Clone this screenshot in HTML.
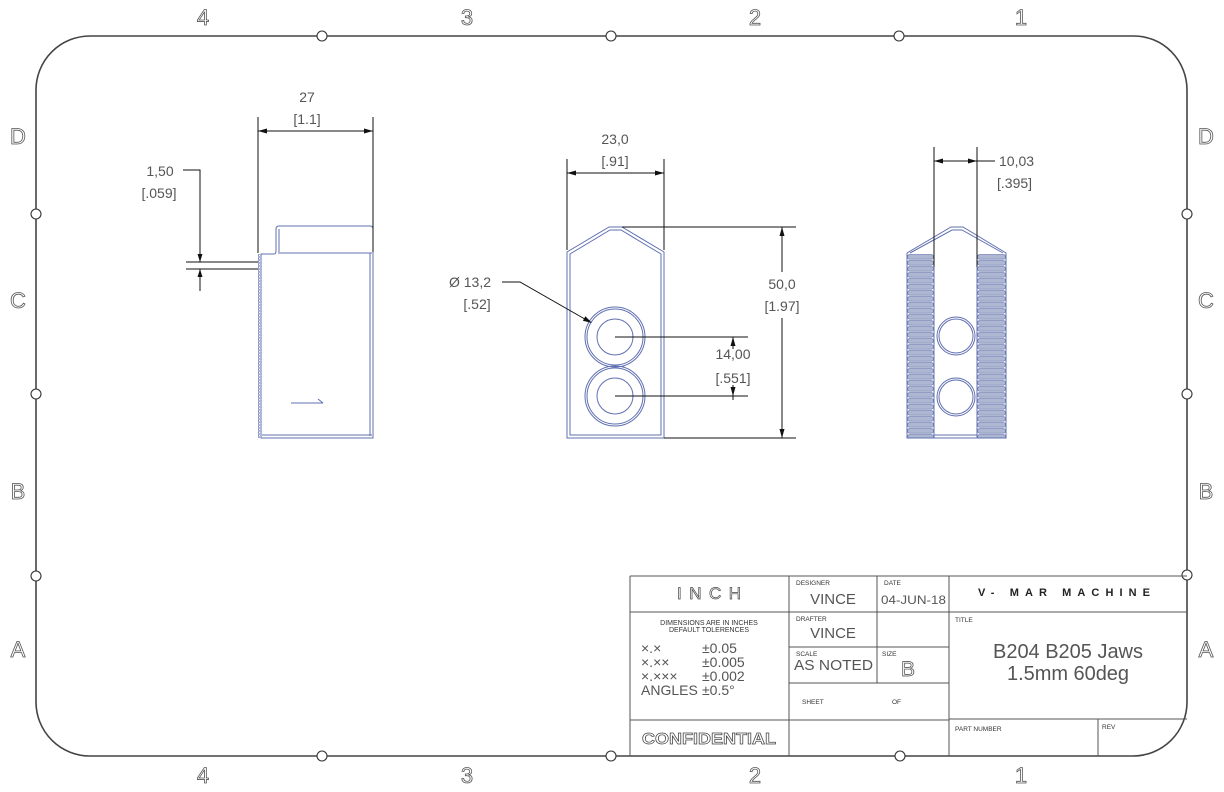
<!DOCTYPE html>
<html><head><meta charset="utf-8"><style>
html,body{margin:0;padding:0;background:#fff;}
svg{display:block;}
text{font-family:"Liberation Sans",sans-serif;}
</style></head><body>
<svg width="1224" height="792" viewBox="0 0 1224 792" xmlns="http://www.w3.org/2000/svg">
<defs>
<pattern id="serr" x="258" y="254" width="4" height="3" patternUnits="userSpaceOnUse">
<path d="M2,0 A1.5,1.5 0 0 0 2,3" fill="none" stroke="#6a78b0" stroke-width="0.8"/>
</pattern>
<pattern id="knurlL" x="907" y="254" width="27" height="6" patternUnits="userSpaceOnUse">
<rect x="0.5" y="0.6" width="26" height="4.6" rx="2.2" fill="#aeb7d2" stroke="#5d6ca8" stroke-width="0.6"/>
</pattern>
<pattern id="knurlR" x="977" y="254" width="29" height="6" patternUnits="userSpaceOnUse">
<rect x="0.5" y="0.6" width="28" height="4.6" rx="2.2" fill="#aeb7d2" stroke="#5d6ca8" stroke-width="0.6"/>
</pattern>
</defs>

<!-- border -->
<path d="M90,36 L1134,36 A53,54 0 0 1 1187,90 L1187,702 A54,54 0 0 1 1133,756 L90,756 A54,54 0 0 1 36,702 L36,90 A54,54 0 0 1 90,36 Z" fill="none" stroke="#444" stroke-width="1.6"/>
<g fill="#fff" stroke="#333" stroke-width="1.1">
<circle cx="322" cy="36" r="5"/><circle cx="611" cy="36" r="5"/><circle cx="899" cy="36" r="5"/>
<circle cx="322" cy="756" r="5"/><circle cx="611" cy="756" r="5"/><circle cx="900" cy="756" r="5"/>
<circle cx="36" cy="214" r="5"/><circle cx="36" cy="394" r="5"/><circle cx="36" cy="576" r="5"/>
<circle cx="1187" cy="214" r="5"/><circle cx="1187" cy="394" r="5"/><circle cx="1187" cy="575" r="5"/>
</g>
<g font-size="22" fill="#fff" stroke="#555" stroke-width="0.8" text-anchor="middle">
<text x="203" y="25">4</text><text x="467" y="25">3</text><text x="755" y="25">2</text><text x="1021" y="25">1</text>
<text x="203" y="783">4</text><text x="467" y="783">3</text><text x="755" y="783">2</text><text x="1021" y="783">1</text>
<text x="18" y="144">D</text><text x="18" y="308">C</text><text x="18" y="499">B</text><text x="18" y="657">A</text>
<text x="1206" y="144">D</text><text x="1206" y="308">C</text><text x="1206" y="499">B</text><text x="1206" y="657">A</text>
</g>

<!-- ============ LEFT VIEW ============ -->
<g fill="none" stroke="#6070b0" stroke-width="1">
<path d="M261,438 L261,254 L274,254 Q276,254 276,251 L276,229 Q276,226 279,226 L370,226 Q373,226 373,229 L373,438 Z"/>
<line x1="278" y1="253" x2="372" y2="253"/>
<line x1="279" y1="229" x2="279" y2="252"/>
<line x1="370" y1="253" x2="370" y2="436"/>
<line x1="262" y1="435" x2="372" y2="435"/>
<line x1="291" y1="403" x2="323" y2="403"/>
<line x1="323" y1="403" x2="318" y2="399"/>
</g>
<rect x="258" y="254" width="4" height="184" fill="url(#serr)"/>
<g stroke="#111" stroke-width="1" fill="none">
<line x1="258" y1="117" x2="258" y2="253"/>
<line x1="373" y1="117" x2="373" y2="252"/>
<line x1="258" y1="131" x2="373" y2="131"/>
<polyline points="183,170 200,170 200,262"/>
<line x1="200" y1="269" x2="200" y2="291"/>
<line x1="186" y1="262" x2="258" y2="262"/>
<line x1="186" y1="269" x2="258" y2="269"/>
</g>
<g fill="#111">
<polygon points="258,131 267,128.5 267,133.5"/>
<polygon points="373,131 364,128.5 364,133.5"/>
<polygon points="200,262 197.5,254 202.5,254"/>
<polygon points="200,269 197.5,277 202.5,277"/>
</g>
<g font-size="14" fill="#555" text-anchor="middle">
<text x="307" y="102">27</text>
<text x="307" y="124">[1.1]</text>
<text x="160" y="176">1,50</text>
<text x="159" y="198">[.059]</text>
</g>

<!-- ============ MIDDLE VIEW ============ -->
<g fill="none" stroke="#6070b0" stroke-width="1">
<path d="M567,438 L567,252 L609,227 L622,227 L664,252 L664,438 Z"/>
<path d="M570,435 L570,254 L610,230 L621,230 L661,254 L661,435 Z"/>
<circle cx="615" cy="337" r="30"/><circle cx="615" cy="337" r="28"/><circle cx="615" cy="337" r="18"/>
<circle cx="615" cy="396" r="30"/><circle cx="615" cy="396" r="28"/><circle cx="615" cy="396" r="18"/>
</g>
<g stroke="#111" stroke-width="1" fill="none">
<line x1="567" y1="159" x2="567" y2="250"/>
<line x1="664" y1="159" x2="664" y2="250"/>
<line x1="567" y1="173" x2="664" y2="173"/>
<line x1="622" y1="227" x2="796" y2="227"/>
<line x1="664" y1="438" x2="796" y2="438"/>
<line x1="782" y1="227" x2="782" y2="272"/>
<line x1="782" y1="318" x2="782" y2="438"/>
<line x1="615" y1="337" x2="748" y2="337"/>
<line x1="615" y1="396" x2="748" y2="396"/>
<line x1="733" y1="337" x2="733" y2="349"/>
<line x1="733" y1="385" x2="733" y2="400"/>
<polyline points="502,282 520,282 590,322"/>
</g>
<g fill="#111">
<polygon points="567,173 576,170.5 576,175.5"/>
<polygon points="664,173 655,170.5 655,175.5"/>
<polygon points="782,227 779.5,236 784.5,236"/>
<polygon points="782,438 779.5,429 784.5,429"/>
<polygon points="733,337 730.5,346 735.5,346"/>
<polygon points="733,396 730.5,387 735.5,387"/>
<polygon points="592,323 582.9,320.7 585.4,316.3"/>
</g>
<g font-size="14" fill="#555" text-anchor="middle">
<text x="615" y="144">23,0</text>
<text x="615" y="166">[.91]</text>
<text x="782" y="289">50,0</text>
<text x="782" y="311">[1.97]</text>
<text x="733" y="359">14,00</text>
<text x="733" y="383">[.551]</text>
<text x="470" y="287">Ø 13,2</text>
<text x="477" y="309">[.52]</text>
</g>

<!-- ============ RIGHT VIEW ============ -->
<rect x="907" y="254" width="27" height="184" fill="url(#knurlL)"/>
<rect x="977" y="254" width="29" height="184" fill="url(#knurlR)"/>
<g fill="none" stroke="#6070b0" stroke-width="1">
<path d="M907,438 L907,253 L951,227 L963,227 L1006,253 L1006,438 Z"/>
<path d="M910,253 L952,230 L962,230 L1003,253"/>
<line x1="934" y1="435" x2="977" y2="435"/>
<line x1="934" y1="254" x2="934" y2="438"/>
<line x1="977" y1="254" x2="977" y2="438"/>
<circle cx="956" cy="336" r="19"/><circle cx="956" cy="336" r="17"/>
<circle cx="956" cy="397" r="19"/><circle cx="956" cy="397" r="17"/>
</g>
<g stroke="#111" stroke-width="1" fill="none">
<line x1="934" y1="147" x2="934" y2="267"/>
<line x1="977" y1="147" x2="977" y2="267"/>
<line x1="934" y1="161" x2="995" y2="161"/>
</g>
<g fill="#111">
<polygon points="934,161 943,158.5 943,163.5"/>
<polygon points="977,161 968,158.5 968,163.5"/>
</g>
<g font-size="14" fill="#555">
<text x="999" y="166">10,03</text>
<text x="997" y="188">[.395]</text>
</g>

<!-- ============ TITLE BLOCK ============ -->
<g stroke="#555" stroke-width="1" fill="none">
<line x1="630" y1="576" x2="1187" y2="576"/>
<line x1="630" y1="576" x2="630" y2="756"/>
<line x1="789" y1="576" x2="789" y2="756"/>
<line x1="877" y1="576" x2="877" y2="683"/>
<line x1="949" y1="576" x2="949" y2="756"/>
<line x1="630" y1="612" x2="1187" y2="612"/>
<line x1="630" y1="720" x2="789" y2="720"/>
<line x1="789" y1="647" x2="949" y2="647"/>
<line x1="789" y1="683" x2="949" y2="683"/>
<line x1="789" y1="720" x2="949" y2="720"/>
<line x1="949" y1="719" x2="1187" y2="719"/>
<line x1="1098" y1="719" x2="1098" y2="756"/>
</g>
<text x="709" y="599" font-size="17" fill="#fff" stroke="#444" stroke-width="0.7" text-anchor="middle" textLength="64" lengthAdjust="spacing">INCH</text>
<g font-size="7" fill="#333" text-anchor="middle">
<text x="709" y="625">DIMENSIONS ARE IN INCHES</text>
<text x="709" y="632">DEFAULT TOLERENCES</text>
</g>
<g font-size="14" fill="#555">
<text x="641" y="653">×.×</text><text x="702" y="653">±0.05</text>
<text x="641" y="667">×.××</text><text x="702" y="667">±0.005</text>
<text x="641" y="681">×.×××</text><text x="702" y="681">±0.002</text>
<text x="641" y="695">ANGLES</text><text x="702" y="695">±0.5°</text>
</g>
<text x="709" y="744" font-size="16" font-weight="bold" fill="#fff" stroke="#444" stroke-width="0.7" text-anchor="middle" textLength="134" lengthAdjust="spacingAndGlyphs">CONFIDENTIAL</text>
<g font-size="6.5" fill="#333">
<text x="796" y="585">DESIGNER</text>
<text x="884" y="585">DATE</text>
<text x="796" y="621">DRAFTER</text>
<text x="796" y="656">SCALE</text>
<text x="882" y="656">SIZE</text>
<text x="802" y="704">SHEET</text>
<text x="892" y="704">OF</text>
<text x="955" y="622">TITLE</text>
<text x="955" y="731">PART NUMBER</text>
<text x="1102" y="729">REV</text>
</g>
<g font-size="15" fill="#555">
<text x="833" y="604" text-anchor="middle">VINCE</text>
<text x="833" y="638" text-anchor="middle">VINCE</text>
<text x="794" y="670" textLength="79" lengthAdjust="spacingAndGlyphs">AS NOTED</text>
</g>
<text x="881" y="604" font-size="12" fill="#555" textLength="65" lengthAdjust="spacingAndGlyphs">04-JUN-18</text>
<text x="901" y="676" font-size="21" fill="#fff" stroke="#444" stroke-width="0.7">B</text>
<text x="978" y="596" font-size="11" font-weight="bold" font-family="Liberation Serif, serif" fill="#222" textLength="172" lengthAdjust="spacing">V- MAR  MACHINE</text>
<g font-size="20" fill="#555" text-anchor="middle">
<text x="1068" y="658" textLength="150" lengthAdjust="spacing">B204 B205 Jaws</text>
<text x="1068" y="680" textLength="122" lengthAdjust="spacing">1.5mm 60deg</text>
</g>
</svg>
</body></html>
